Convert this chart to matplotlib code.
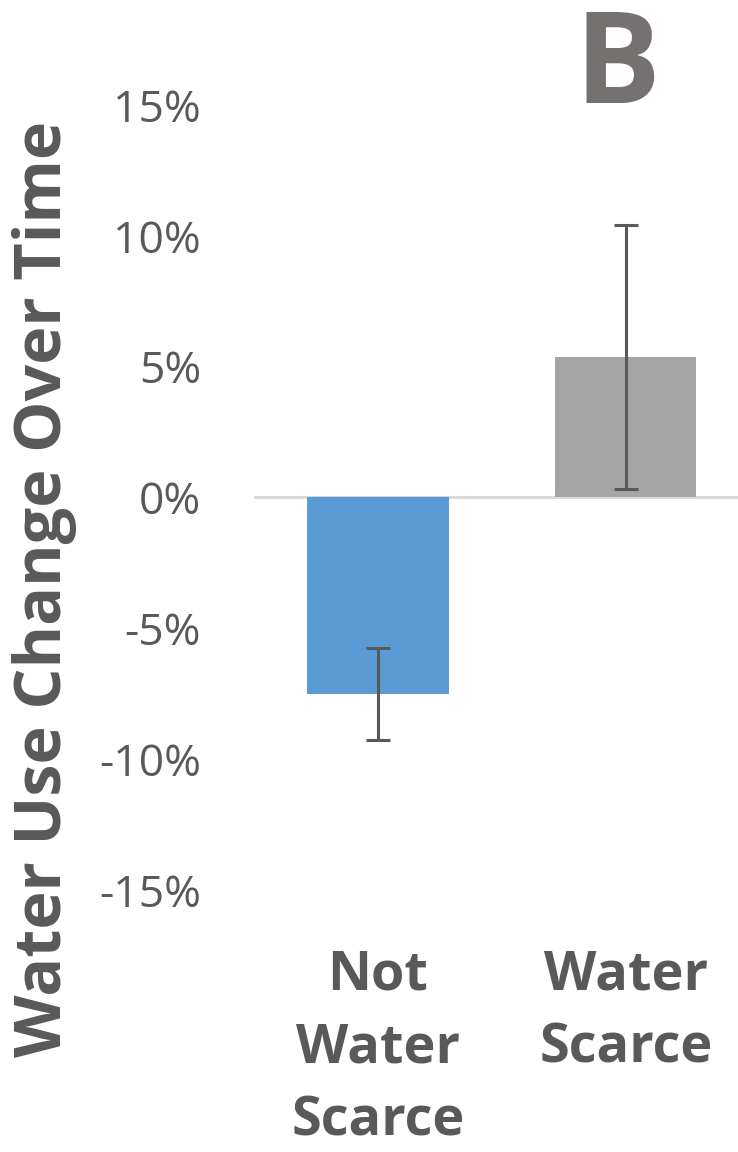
import matplotlib.pyplot as plt
from matplotlib.ticker import FuncFormatter

categories = ["Not\nWater\nScarce", "Water\nScarce"]
change_pct = [-7.5, 5.36]
error_pct = [1.75, 5.05]
bar_colors = ["#5B9BD5", "#A5A5A5"]
y_ticks = [-15, -10, -5, 0, 5, 10, 15]

text_color = "#595959"
plt.rcParams["font.family"] = ["Open Sans", "DejaVu Sans"]

fig = plt.figure(figsize=(7.38, 11.52), dpi=100)
ax = fig.add_axes([0.344, 0.2274, 0.672, 0.6815])

x = list(range(len(categories)))
ax.bar(x, change_pct, width=0.57, color=bar_colors, zorder=2)
ax.errorbar(x, change_pct, yerr=error_pct, fmt="none", ecolor=text_color,
            elinewidth=2.2, capsize=8.5, capthick=2.2, zorder=3)
ax.axhline(0, color="#D9D9D9", lw=2.2, zorder=1)

ax.set_xlim(-0.5, 1.5)
ax.set_ylim(-15, 15)
ax.set_yticks(y_ticks)
ax.yaxis.set_major_formatter(FuncFormatter(lambda v, p: f"{v:.0f}%"))
ax.set_xticks(x)
ax.set_xticklabels(categories, fontsize=39, fontweight="bold",
                   color=text_color, linespacing=1.47)
ax.tick_params(axis="y", labelsize=32, labelcolor=text_color, length=0, pad=38)
ax.tick_params(axis="x", length=0, pad=42)
for s in ax.spines.values():
    s.set_visible(False)

fig.text(0.06, 0.489, "Water Use Change Over Time", rotation=90,
         ha="center", va="center", fontsize=46.5, fontweight="bold",
         color=text_color)
fig.text(0.836, 0.995, "B", ha="center", va="top", fontsize=92,
         fontweight="bold", color="#767171")

fig.savefig("out.png", dpi=100)
